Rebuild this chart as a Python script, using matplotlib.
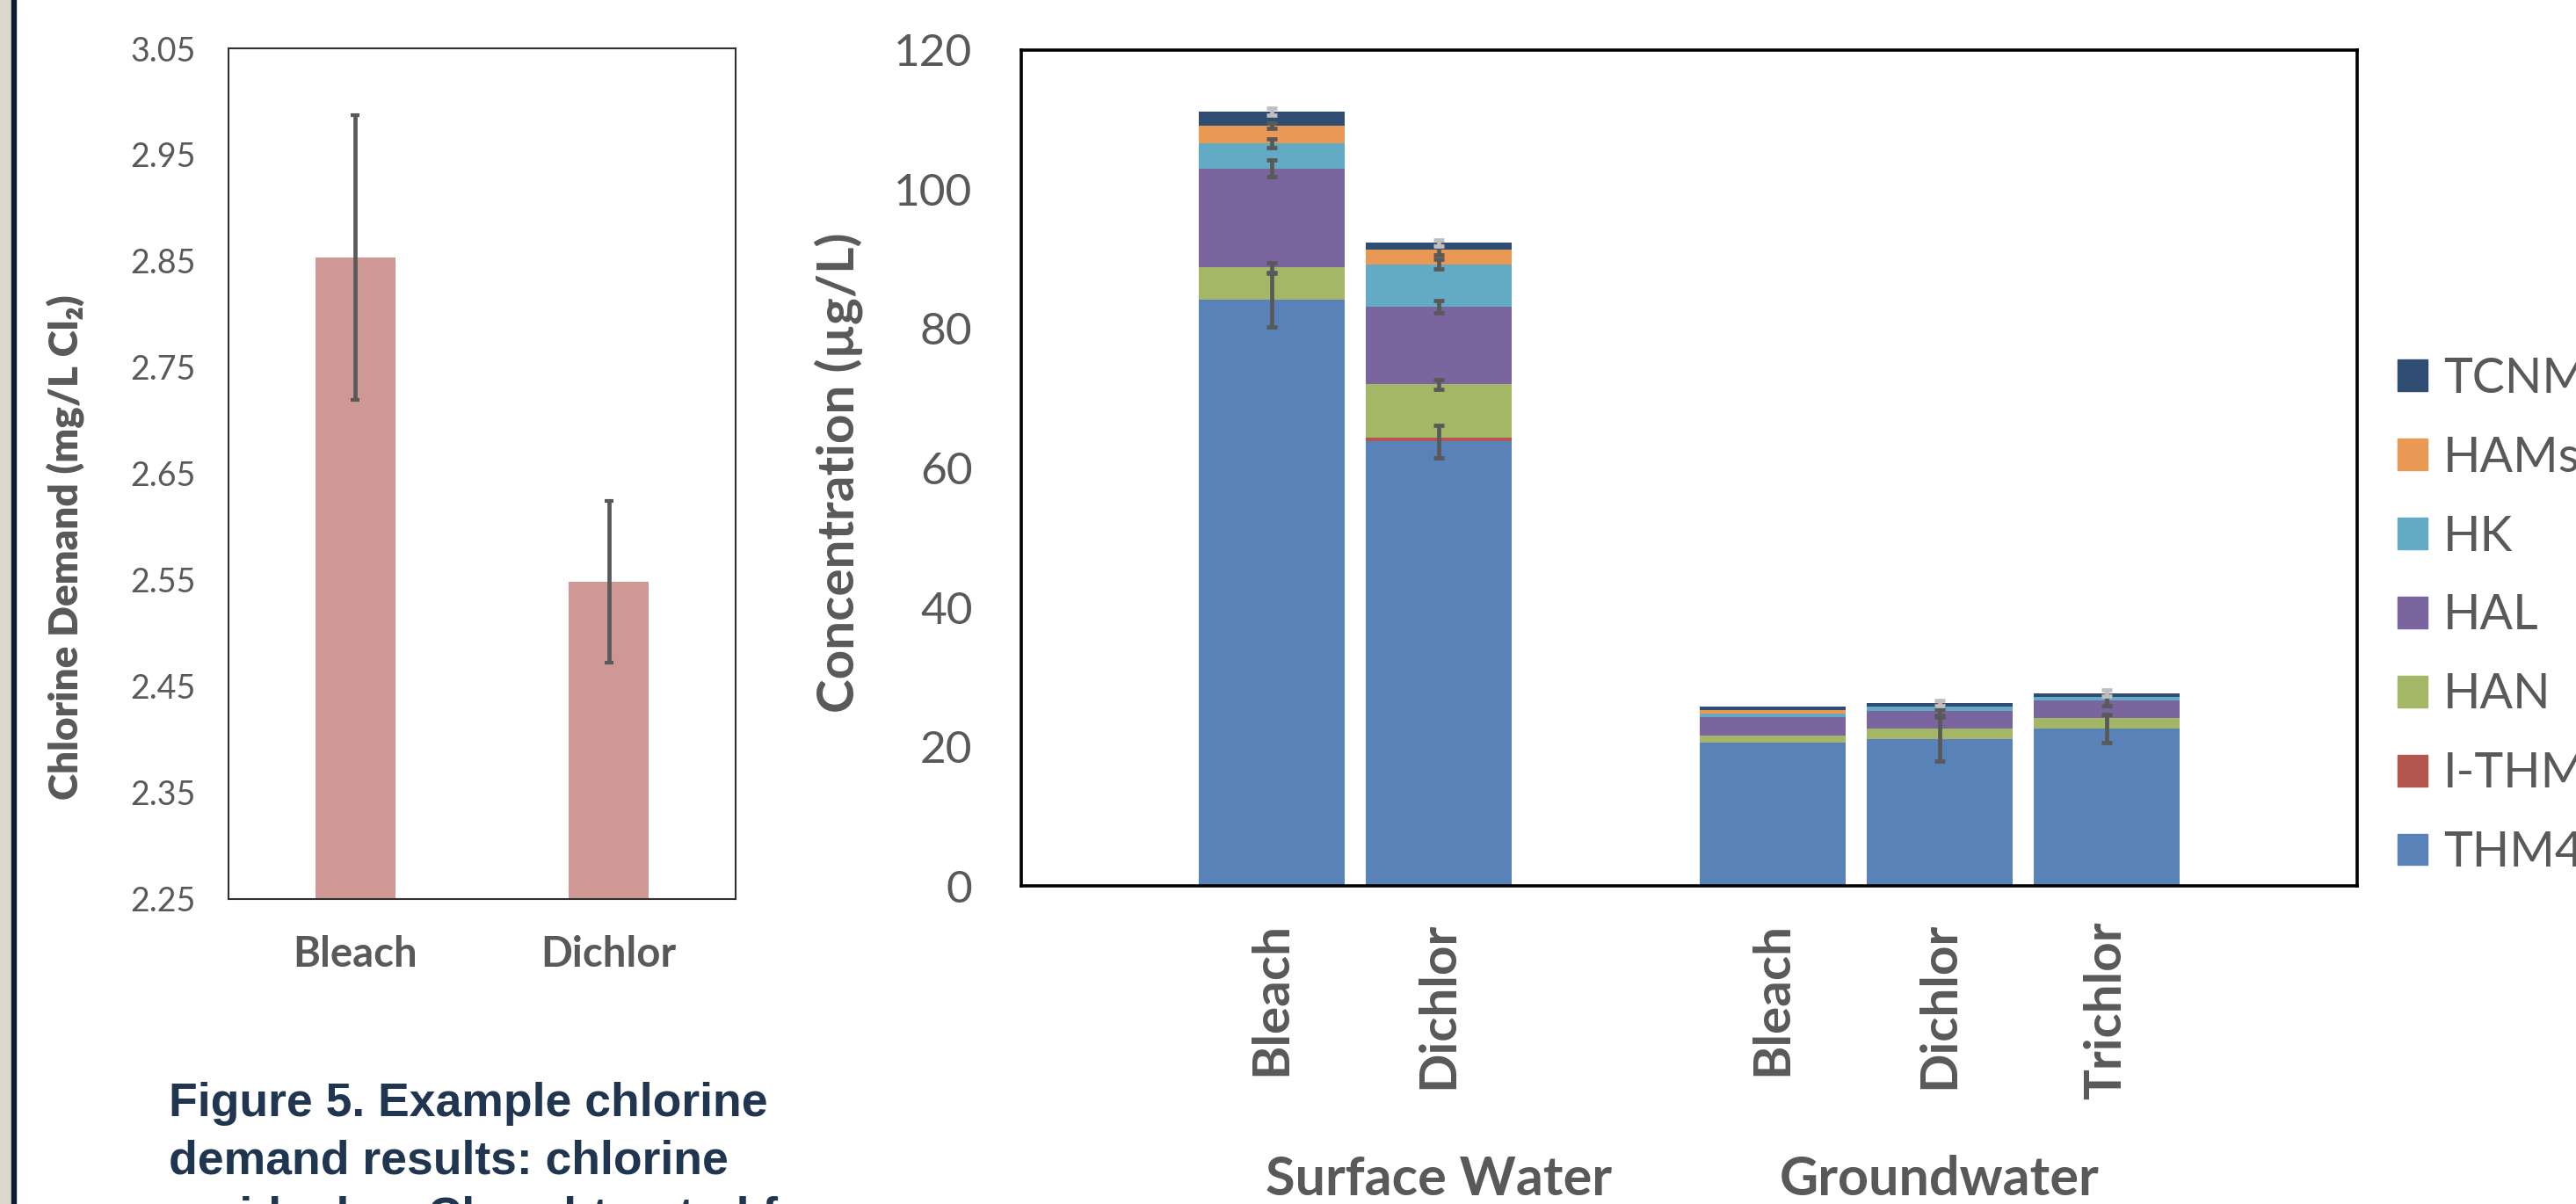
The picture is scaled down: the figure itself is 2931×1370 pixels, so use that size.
import numpy as np
import matplotlib
matplotlib.use("Agg")
import matplotlib.pyplot as plt
from matplotlib.patches import Rectangle, Patch
from matplotlib.transforms import blended_transform_factory

plt.rcParams['font.family'] = ['Lato', 'DejaVu Sans']

GREY = "#595959"

# ── chlorine demand (left panel) ────────────────────────────
demand_labels = ["Bleach", "Dichlor"]
demand_vals = [2.853, 2.548]
demand_err = [0.134, 0.076]

# ── DBP concentrations (right panel) ────────────────────────
dbp_labels = ["Bleach", "Dichlor", "Bleach", "Dichlor", "Trichlor"]
groups = ["Surface Water", "Groundwater"]
series = ["THM4", "I-THM", "HAN", "HAL", "HK", "HAMs", "TCNM"]
colors = ["#5882B8", "#B5554F", "#A3B766", "#7B659E", "#63AAC4", "#EA9955", "#2F4C72"]

thm4 = [84.1, 63.8, 20.6, 21.1, 22.6]
ithm = [0.0, 0.5, 0.0, 0.0, 0.0]
han = [4.7, 7.7, 1.0, 1.5, 1.5]
hal = [14.2, 11.1, 2.6, 2.5, 2.6]
hk = [3.6, 6.1, 0.5, 0.6, 0.5]
hams = [2.5, 2.1, 0.5, 0.1, 0.0]
tcnm = [2.0, 1.0, 0.5, 0.5, 0.5]

thm4_err = [3.8, 2.3, 0.0, 3.1, 2.0]
ithm_err = [0.0, 0.0, 0.0, 0.0, 0.0]
han_err = [0.7, 0.7, 0.0, 0.0, 0.0]
hal_err = [1.2, 0.9, 0.0, 0.6, 0.75]
hk_err = [0.6, 0.7, 0.0, 0.3, 0.0]
hams_err = [0.4, 0.75, 0.0, 0.0, 0.0]
tcnm_err = [0.5, 0.45, 0.0, 0.4, 0.45]

values = [thm4, ithm, han, hal, hk, hams, tcnm]
errors = [thm4_err, ithm_err, han_err, hal_err, hk_err, hams_err, tcnm_err]

W, H = 2931, 1370
fig = plt.figure(figsize=(W / 100, H / 100), dpi=100)

# slide edge on the left
fig.patches.append(Rectangle((0, 0), 12.7 / W, 1, transform=fig.transFigure,
                             color="#DAD8CC", zorder=0))
fig.patches.append(Rectangle((12.7 / W, 0), 5.6 / W, 1, transform=fig.transFigure,
                             color="#0B1C30", zorder=0))

# --- left panel: chlorine demand ---
ax1 = fig.add_axes([260 / W, 1 - 1022.7 / H, (837 - 260) / W, (1022.7 - 55) / H])
x1 = np.arange(len(demand_labels))
ax1.bar(x1, demand_vals, width=0.315, color="#D09895", zorder=2)
ax1.errorbar(x1, demand_vals, yerr=demand_err, fmt="none", ecolor=GREY,
             elinewidth=3.4, capsize=3.4, capthick=3.0, zorder=3)
ax1.set_xlim(-0.5, 1.5)
ax1.set_ylim(2.25, 3.05)
ax1.set_yticks(np.round(np.arange(2.25, 3.051, 0.1), 2))
ax1.set_yticklabels([f"{v:.2f}" for v in np.arange(2.25, 3.051, 0.1)])
ax1.set_xticks(x1)
ax1.set_xticklabels(demand_labels, fontweight="bold")
ax1.tick_params(axis="y", length=0, pad=27, labelsize=27, labelcolor=GREY)
ax1.tick_params(axis="x", length=0, pad=30, labelsize=34, labelcolor=GREY)
for s in ax1.spines.values():
    s.set_linewidth(1.5)
    s.set_color("#303030")
ax1.set_ylabel("Chlorine Demand (mg/L Cl\u2082)", fontsize=33, fontweight="heavy",
               color=GREY)
ax1.yaxis.set_label_coords(-0.284, 0.413)

# --- right panel: stacked DBP bars ---
ax2 = fig.add_axes([1162 / W, 1 - 1008.3 / H, (2682 - 1162) / W, (1008.3 - 56.7) / H])
xpos = np.array([0, 1, 3, 4, 5])
bottom = np.zeros(len(xpos))
tops = []
for name, vals, col in zip(series, values, colors):
    ax2.bar(xpos, vals, width=0.87, bottom=bottom, color=col, label=name, zorder=2)
    bottom = bottom + np.array(vals)
    tops.append(bottom.copy())

for name, top, err in zip(series, tops, errors):
    err = np.array(err)
    m = err > 0
    ec = "#BFBFBF" if name == "TCNM" else GREY
    ax2.errorbar(xpos[m], top[m], yerr=err[m], fmt="none", ecolor=ec,
                 elinewidth=3.4, capsize=4.5, capthick=3.4, zorder=3)

ax2.set_xlim(-1.5, 6.5)
ax2.set_ylim(0, 120)
ax2.set_yticks(np.arange(0, 121, 20))
ax2.set_xticks(xpos)
ax2.set_xticklabels(dbp_labels, rotation=90, fontweight="bold")
ax2.tick_params(axis="y", length=0, pad=40, labelsize=37, labelcolor=GREY)
ax2.tick_params(axis="x", length=0, pad=29, labelsize=42, labelcolor=GREY)
for s in ax2.spines.values():
    s.set_linewidth(2.6)
    s.set_color("black")
ax2.set_ylabel("Concentration (\u00b5g/L)", fontsize=42, fontweight="bold", color=GREY)
ax2.yaxis.set_label_coords(-0.1184, 0.495)

tr = blended_transform_factory(ax2.transData, fig.transFigure)
for gx, g in zip([1, 4], groups):
    ax2.text(gx, 1 - 1360 / H, g, transform=tr, ha="center", va="baseline",
             fontsize=44, fontweight="bold", color=GREY)

handles = [Patch(color=c, label=n) for n, c in zip(series, colors)][::-1]
ax2.legend(handles=handles, loc="center left", bbox_to_anchor=(2728 / W, 1 - 701 / H),
           bbox_transform=fig.transFigure, frameon=False, fontsize=40,
           labelcolor=GREY, handlelength=0.61, handleheight=0.61,
           handletextpad=0.32, labelspacing=0.7, borderpad=0, borderaxespad=0)

# caption
cap_lines = ["Figure 5. Example chlorine", "demand results: chlorine",
             "residual as Cl\u2082 subtracted from"]
for i, line in enumerate(cap_lines):
    fig.text(191.7 / W, 1 - (1270 + 65 * i) / H, line, ha="left", va="baseline",
             fontsize=38.5, fontweight="bold", color="#203650",
             family=["Liberation Sans", "DejaVu Sans"])

fig.savefig("out.png", dpi=100)
